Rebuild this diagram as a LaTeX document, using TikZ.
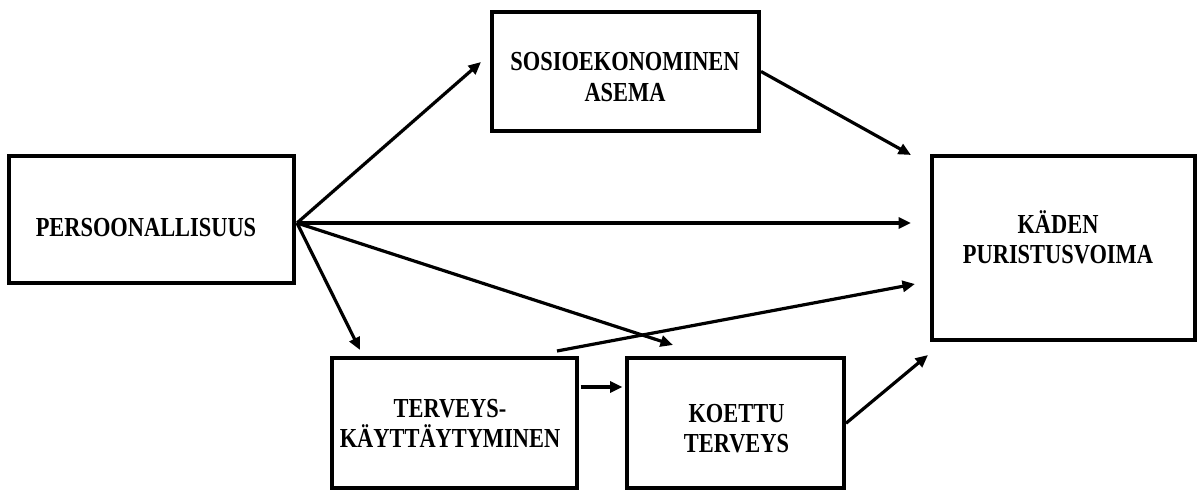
\documentclass[tikz,border=0pt]{standalone}
\usepackage{fontspec}
\newfontfamily\boxfont{Liberation Serif}[FakeStretch=0.815]
\usetikzlibrary{arrows.meta,calc}
\tikzset{
  boxnode/.style={draw=black, line width=4pt, rectangle, inner sep=0pt, fill=white},
  boxtext/.style={align=center, inner sep=0pt, font=\boxfont\bfseries\fontsize{27.5}{30.5}\selectfont},
  conn/.style={line width=3.2pt, -{Triangle[length=12.5pt,width=11pt]}},
}
\begin{document}
\begin{tikzpicture}[x=1pt,y=1pt]
\useasboundingbox (0,0) rectangle (1197,490);
% boxes
\node[boxnode, minimum width=285pt, minimum height=127pt] (pers) at (151.5,270.5) {};
\node[boxnode, minimum width=267pt, minimum height=119pt] (sosio) at (625.5,418.5) {};
\node[boxnode, minimum width=263pt, minimum height=184pt] (kaden) at (1063.5,242) {};
\node[boxnode, minimum width=244.5pt, minimum height=129.5pt] (terv) at (454.25,66.75) {};
\node[boxnode, minimum width=217.5pt, minimum height=129.5pt] (koettu) at (735.25,66.75) {};
% texts
\node[boxtext] (persT) at (146,262) {PERSOONALLISUUS};
\node[boxtext] (sosioT) at (625,413) {SOSIOEKONOMINEN\\ASEMA};
\node[boxtext] (kadenT) at (1058,252.5) {KÄDEN\\PURISTUSVOIMA};
\node[boxtext] (tervT) at (450,66.5) {TERVEYS-\\KÄYTTÄYTYMINEN};
\node[boxtext] (koettuT) at (736.5,61.5) {KOETTU\\TERVEYS};
% connectors
\coordinate (po) at ($(pers.east)+(1,-3.5)$);
\draw[conn] (po) -- ($(sosio.west)+(-9,9.5)$);
\draw[conn] (po) -- ($(kaden.west)+(-19,25)$);
\draw[conn] (po) -- ($(terv.north west)+(30,6.5)$);
\draw[conn] (po) -- ($(koettu.north west)+(48.5,11.5)$);
\draw[conn] ($(terv.north east)+(-21.5,5.5)$) -- ($(kaden.west)+(-15,-36)$);
\draw[conn] ($(terv.north east)+(2,-30.5)$) -- ($(koettu.north west)+(-2,-30.5)$);
\draw[conn] (sosio.east) -- ($(kaden.north west)+(-19,-1)$);
\draw[conn] (koettu.east) -- ($(kaden.south west)+(-2,-13)$);
\end{tikzpicture}
\end{document}
